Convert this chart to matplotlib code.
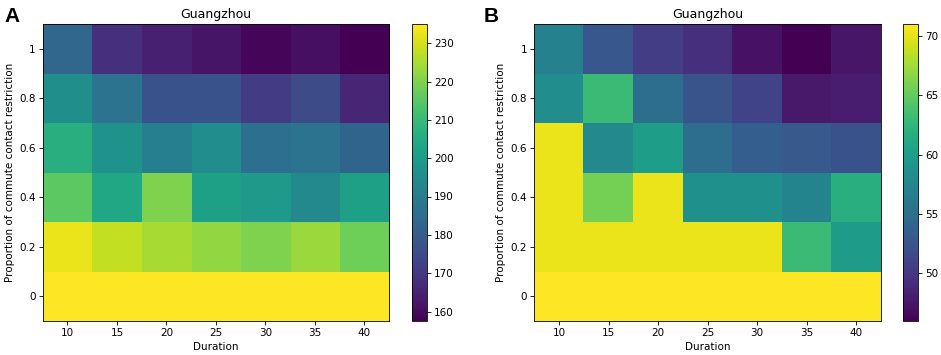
import matplotlib
matplotlib.use("Agg")
import matplotlib.pyplot as plt
import numpy as np

durations = [10, 15, 20, 25, 30, 35, 40]
proportions = [0, 0.2, 0.4, 0.6, 0.8, 1]
prop_labels = ["0", "0.2", "0.4", "0.6", "0.8", "1"]

# rows: proportion 0 -> 1, columns: duration 10 -> 40
values_a = [
    [235, 235, 235, 235, 235, 235, 235],
    [232.7, 228, 225, 222.5, 220, 223.5, 218],
    [215.6, 204, 220, 201.7, 199.5, 194, 201.5],
    [206, 197, 191, 195.5, 186, 187, 182.5],
    [196, 187, 177, 177, 171.5, 175.5, 166],
    [183, 168, 164.5, 162, 159, 160.7, 157.6],
]
values_b = [
    [71, 71, 71, 71, 71, 71, 71],
    [70.25, 70.25, 70.25, 70.25, 70.25, 63, 59.75],
    [70.25, 65.75, 70.25, 58.5, 58.5, 57.25, 61.75],
    [70.25, 57.75, 60, 55, 53.5, 53, 52.25],
    [58.25, 63, 55, 52.5, 51, 47.75, 48],
    [57, 52.75, 50.5, 49.5, 47.25, 46, 47.5],
]
ticks_a = [160, 170, 180, 190, 200, 210, 220, 230]
ticks_b = [50, 55, 60, 65, 70]

plt.rcParams["axes.linewidth"] = 0.6
plt.rcParams["xtick.major.width"] = 0.6
plt.rcParams["ytick.major.width"] = 0.6
plt.rcParams["xtick.major.size"] = 2.6
plt.rcParams["ytick.major.size"] = 2.6
plt.rcParams["xtick.major.pad"] = 2.6
plt.rcParams["ytick.major.pad"] = 2.6

fig = plt.figure(figsize=(9.41, 3.55), dpi=100)
W, H = 941, 355

def panel(left, cb_left, data, ticks, letter, letter_x):
    ax = fig.add_axes([left / W, 1 - 320.7 / H, 346.5 / W, 296.7 / H])
    cax = fig.add_axes([cb_left / W, 1 - 320.7 / H, 15 / W, 296.7 / H])
    data = np.array(data)
    im = ax.imshow(data, cmap="viridis", origin="lower", aspect="auto",
                   extent=[7.5, 42.5, -0.1, 1.1], interpolation="nearest")
    ax.set_xticks(durations)
    ax.set_yticks(proportions)
    ax.set_yticklabels(prop_labels)
    ax.tick_params(labelsize=7.5)
    ax.set_xlabel("Duration", fontsize=7.5, labelpad=3)
    ax.set_ylabel("Proportion of commute contact restriction", fontsize=7.5,
                  labelpad=3)
    ax.set_title("Guangzhou", fontsize=9, pad=4.5)
    cb = fig.colorbar(im, cax=cax)
    cb.set_ticks(ticks)
    cb.ax.tick_params(labelsize=7.5)
    fig.text(letter_x / W, 1 - 16 / H, letter, fontsize=15, fontweight="bold",
             family="Liberation Sans", ha="left", va="center")

panel(42.7, 411.7, values_a, ticks_a, "A", 4)
panel(534.3, 903.3, values_b, ticks_b, "B", 484)

fig.savefig("out.png", dpi=100)
